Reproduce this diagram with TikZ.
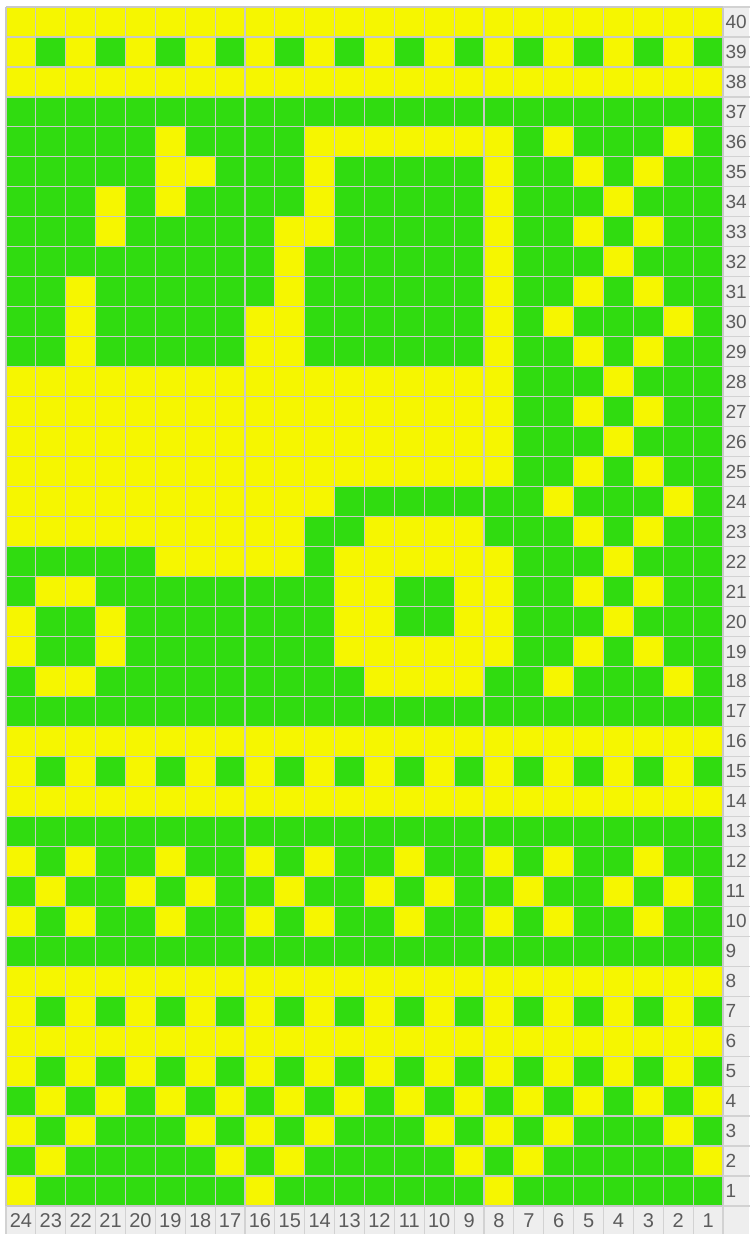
\documentclass[tikz,border=0pt]{standalone}
\usepackage{fontspec}
\setmainfont{Liberation Sans}
\definecolor{cellg}{HTML}{30DC10}
\definecolor{celly}{HTML}{F6F600}
\definecolor{gridline}{HTML}{C8C8C8}
\definecolor{labelbg}{HTML}{EEEEEE}
\definecolor{labelline}{HTML}{D2D2D2}
\definecolor{labeltext}{HTML}{5C5C5C}

% repeated rows of the chart
\def\allY{y,y,y,y,y,y,y,y,y,y,y,y,y,y,y,y,y,y,y,y,y,y,y,y}
\def\allG{g,g,g,g,g,g,g,g,g,g,g,g,g,g,g,g,g,g,g,g,g,g,g,g}
\def\oddG{y,g,y,g,y,g,y,g,y,g,y,g,y,g,y,g,y,g,y,g,y,g,y,g}
\def\diamA{y,g,y,g,g,y,g,g,y,g,y,g,g,y,g,g,y,g,y,g,g,y,g,g}
\def\diamB{y,y,y,y,y,y,y,y,y,y,y,y,y,y,y,y,y,g,g,g,y,g,g,g}
\def\diamC{y,y,y,y,y,y,y,y,y,y,y,y,y,y,y,y,y,g,g,y,g,y,g,g}

\begin{document}
\begin{tikzpicture}[x=0.5pt, y=-0.5pt,
  rowlabel/.style={font=\fontsize{9.5}{10}\selectfont, text=labeltext, inner sep=0pt, anchor=west},
  collabel/.style={font=\fontsize{10}{11}\selectfont, text=labeltext, inner sep=0pt}]
  \useasboundingbox (0,0) rectangle (749,1234);
  \fill[white] (0,0) rectangle (749,1234);
  \fill[labelbg] (723,7) rectangle (749,1234);
  \fill[labelbg] (6,1206) rectangle (749,1234);

  \begin{scope}[shift={(6,7)}, x=14.9375pt, y=-14.9875pt]
    % cells, left to right = column 24 ... column 1
    \foreach \r/\cells in {
      40/\allY, 39/\oddG, 38/\allY, 37/\allG,
      36/{g,g,g,g,g,y,g,g,g,g,y,y,y,y,y,y,y,g,y,g,g,g,y,g},
      35/{g,g,g,g,g,y,y,g,g,g,y,g,g,g,g,g,y,g,g,y,g,y,g,g},
      34/{g,g,g,y,g,y,g,g,g,g,y,g,g,g,g,g,y,g,g,g,y,g,g,g},
      33/{g,g,g,y,g,g,g,g,g,y,y,g,g,g,g,g,y,g,g,y,g,y,g,g},
      32/{g,g,g,g,g,g,g,g,g,y,g,g,g,g,g,g,y,g,g,g,y,g,g,g},
      31/{g,g,y,g,g,g,g,g,g,y,g,g,g,g,g,g,y,g,g,y,g,y,g,g},
      30/{g,g,y,g,g,g,g,g,y,y,g,g,g,g,g,g,y,g,y,g,g,g,y,g},
      29/{g,g,y,g,g,g,g,g,y,y,g,g,g,g,g,g,y,g,g,y,g,y,g,g},
      28/\diamB, 27/\diamC, 26/\diamB, 25/\diamC,
      24/{y,y,y,y,y,y,y,y,y,y,y,g,g,g,g,g,g,g,y,g,g,g,y,g},
      23/{y,y,y,y,y,y,y,y,y,y,g,g,y,y,y,y,g,g,g,y,g,y,g,g},
      22/{g,g,g,g,g,y,y,y,y,y,g,y,y,y,y,y,y,g,g,g,y,g,g,g},
      21/{g,y,y,g,g,g,g,g,g,g,g,y,y,g,g,y,y,g,g,y,g,y,g,g},
      20/{y,g,g,y,g,g,g,g,g,g,g,y,y,g,g,y,y,g,g,g,y,g,g,g},
      19/{y,g,g,y,g,g,g,g,g,g,g,y,y,y,y,y,y,g,g,y,g,y,g,g},
      18/{g,y,y,g,g,g,g,g,g,g,g,g,y,y,y,y,g,g,y,g,g,g,y,g},
      17/\allG, 16/\allY, 15/\oddG, 14/\allY, 13/\allG,
      12/\diamA,
      11/{g,y,g,g,y,g,y,g,g,y,g,g,y,g,y,g,g,y,g,g,y,g,y,g},
      10/\diamA, 9/\allG, 8/\allY, 7/\oddG, 6/\allY, 5/\oddG,
      4/{g,y,g,y,g,y,g,y,g,y,g,y,g,y,g,y,g,y,g,y,g,y,g,y},
      3/{y,g,y,g,g,g,y,g,y,g,y,g,g,g,y,g,y,g,y,g,g,g,y,g},
      2/{g,y,g,g,g,g,g,y,g,y,g,g,g,g,g,y,g,y,g,g,g,g,g,y},
      1/{y,g,g,g,g,g,g,g,y,g,g,g,g,g,g,g,y,g,g,g,g,g,g,g}} {
      \edef\rowcells{\cells}
      \foreach \v [count=\i] in \rowcells
        \fill[fill=cell\v] (\i-1,40-\r) rectangle ++(1,1);
    }

    % grid
    \foreach \k in {0,...,24}
      \draw[gridline, line width=0.6pt] (\k,0) -- (\k,40);
    \foreach \k in {0,...,40}
      \draw[gridline, line width=0.6pt] (0,\k) -- (24,\k);
    \foreach \k in {0,...,24}
      \draw[labelline, line width=0.6pt] (\k,40) -- (\k,41);
    \foreach \k in {0,...,40}
      \draw[labelline, line width=0.6pt] (24,\k) -- (25,\k);

    % row and column numbers
    \foreach \r in {1,...,40}
      \node[rowlabel] (row\r) at (24.07,40.5-\r) {\r};
    \foreach \c in {1,...,24}
      \node[collabel] (col\c) at (24.5-\c,40.48) {\c};
  \end{scope}
\end{tikzpicture}
\end{document}
